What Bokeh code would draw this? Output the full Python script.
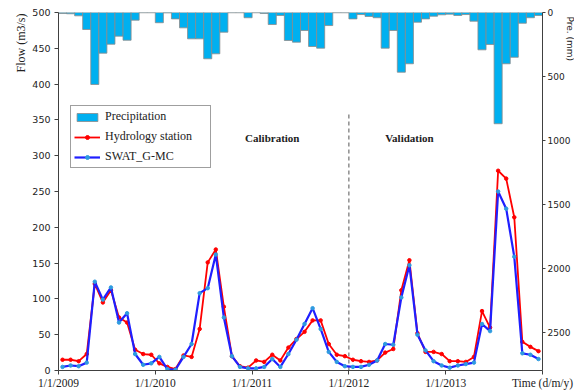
from bokeh.plotting import figure
from bokeh.models import Range1d, LinearAxis, FixedTicker, Legend, LegendItem, Title
from bokeh.core.properties import value
from bokeh.embed import file_html
from bokeh.resources import INLINE

# ---- data (monthly, Jan 2009 .. Dec 2013) ----
months = [f"{y}-{m:02d}" for y in range(2009, 2014) for m in range(1, 13)]

precip_mm = [8, 10, 26, 133, 563, 318, 248, 185, 217, 60, 2, 2,
             80, 3, 50, 120, 206, 206, 362, 323, 154, 2, 2, 41,
             2, 8, 94, 23, 219, 232, 141, 266, 279, 102, 2, 2,
             50, 16, 31, 41, 279, 141, 467, 401, 76, 50, 29, 18,
             13, 23, 16, 68, 292, 250, 870, 401, 350, 84, 41, 23]

observed_flow = [15, 15, 13, 23, 121, 95, 112, 74, 67, 29, 23, 22,
                 10, 5, 2, 21, 19, 58, 151, 169, 89, 20, 6, 4,
                 14, 12, 22, 14, 32, 44, 54, 70, 70, 37, 22, 20,
                 15, 13, 12, 14, 25, 30, 112, 154, 52, 26, 26, 23,
                 13, 13, 12, 19, 83, 60, 279, 268, 214, 40, 33, 27]

simulated_flow = [5, 7, 6, 11, 124, 99, 116, 67, 80, 23, 8, 10,
                  19, 2, 1, 19, 37, 108, 115, 162, 74, 20, 5, 3,
                  3, 5, 16, 5, 23, 43, 65, 87, 58, 26, 12, 6,
                  5, 5, 8, 14, 37, 36, 102, 147, 50, 28, 13, 7,
                  4, 7, 9, 11, 65, 55, 250, 226, 159, 24, 22, 16]

x_ticks = [0, 12, 24, 36, 48, 60]
x_labels = ["1/1/2009", "1/1/2010", "1/1/2011", "1/1/2012", "1/1/2013",
            "Time (d/m/y)"]
flow_ticks = list(range(0, 501, 50))
pre_ticks = [0, 500, 1000, 1500, 2000, 2500]
split_month = 36          # 1/1/2012: calibration | validation
split_top = 360
period_x = [26.5, 43.5]
period_y = [325, 325]
period_names = ["Calibration", "Validation"]

idx = list(range(len(months)))
left = idx
right = [i + 1 for i in idx]
mid = [i + 0.5 for i in idx]

SERIF = "Liberation Serif"
SANS = "DejaVu Sans"
INK = "#222222"
AX = "#404040"

p = figure(width=574, height=392, output_backend="svg", toolbar_location=None,
           x_range=Range1d(0, 60), y_range=Range1d(0, 500),
           min_border_left=58, min_border_right=32, min_border_top=12,
           min_border_bottom=22, background_fill_color="white",
           border_fill_color="white", outline_line_color=None)
p.extra_y_ranges = {"pre": Range1d(start=2800, end=0)}

p.xgrid.visible = False
p.ygrid.visible = False

# precipitation bars hanging from top
bars = p.quad(left=left, right=right, top=[0] * len(idx), bottom=precip_mm,
              y_range_name="pre", fill_color="#00B0F0", line_color="#8A8A8A",
              line_width=0.8)

# dashed separator
p.segment(x0=[split_month], y0=[0], x1=[split_month], y1=[split_top],
          line_dash="4 3", line_color="#555555", line_width=1)

r_line = p.line(mid, observed_flow, line_color="#FF0000", line_width=1.8)
r_pts = p.scatter(mid, observed_flow, size=3.5, fill_color="#FF0000",
                  line_color="#FF0000")
b_line = p.line(mid, simulated_flow, line_color="#1F1FFF", line_width=2.2)
b_pts = p.scatter(mid, simulated_flow, size=3.5, fill_color="#2E9BE0",
                  line_color="#2E9BE0")

# axes
xa = p.xaxis[0]
xa.ticker = FixedTicker(ticks=x_ticks)
xa.major_label_overrides = {t: l for t, l in zip(x_ticks, x_labels)}
xa.major_label_text_font = SERIF
xa.major_label_text_font_size = "11.5px"
xa.major_label_text_color = INK
xa.major_tick_out = 4
xa.major_tick_in = 0
xa.minor_tick_line_color = None
xa.axis_line_color = AX
xa.major_tick_line_color = AX
xa.major_label_standoff = 2

ya = p.yaxis[0]
ya.ticker = FixedTicker(ticks=flow_ticks)
ya.major_label_text_font = SANS
ya.major_label_text_font_size = "9.5px"
ya.major_label_text_color = INK
ya.major_tick_out = 4
ya.major_tick_in = 0
ya.minor_tick_line_color = None
ya.axis_line_color = AX
ya.major_tick_line_color = AX
ya.major_label_standoff = 4

ra = LinearAxis(y_range_name="pre", ticker=FixedTicker(ticks=pre_ticks))
ra.major_label_text_font = SANS
ra.major_label_text_font_size = "9px"
ra.major_label_text_color = INK
ra.major_tick_out = 3
ra.major_tick_in = 0
ra.minor_tick_line_color = None
ra.axis_line_color = AX
ra.major_tick_line_color = AX
ra.major_label_standoff = 2
p.add_layout(ra, "right")

# axis titles, placed at the top ends of the side panels
p.add_layout(Title(text="Flow (m3/s)", align="right", text_font=SERIF,
                   text_font_size="12px", text_font_style="normal",
                   text_color=INK, standoff=4, offset=1), "left")
p.add_layout(Title(text="Pre. (mm)", align="left", text_font=SANS,
                   text_font_size="9px", text_font_style="normal",
                   text_color=INK, standoff=-18, offset=4), "right")

# period labels
p.text(x=period_x, y=period_y, text=period_names,
       text_font=value(SERIF), text_font_style="bold", text_font_size="11px",
       text_align="center", text_baseline="middle", text_color=INK)

legend = Legend(items=[
    LegendItem(label="Precipitation", renderers=[bars]),
    LegendItem(label="Hydrology station", renderers=[r_line, r_pts]),
    LegendItem(label="SWAT_G-MC", renderers=[b_line, b_pts]),
], location=(12, 202))
legend.label_text_font = SERIF
legend.label_text_font_size = "12px"
legend.label_text_color = INK
legend.label_height = 14
legend.label_width = 102
legend.glyph_height = 10
legend.glyph_width = 26
legend.spacing = 5
legend.padding = 3
legend.margin = 0
legend.label_standoff = 5
legend.border_line_color = AX
legend.border_line_width = 1
legend.background_fill_alpha = 1
p.add_layout(legend)

open("out.html", "w").write(file_html(p, INLINE))
